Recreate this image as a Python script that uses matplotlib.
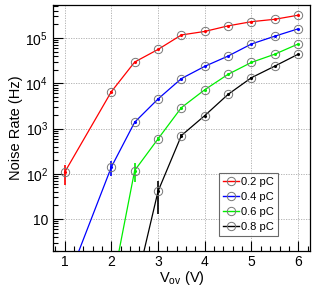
import math

import matplotlib
matplotlib.use('Agg')
import matplotlib.pyplot as plt
from matplotlib.ticker import FixedLocator, MultipleLocator, LogLocator, NullFormatter, FuncFormatter

plt.rcParams['font.family'] = ['Liberation Sans', 'DejaVu Sans']
plt.rcParams['mathtext.fontset'] = 'custom'
plt.rcParams['mathtext.rm'] = 'Liberation Sans'
plt.rcParams['mathtext.it'] = 'Liberation Sans:italic'

# ── Data ────────────────────────────────────────────────────────────────────

vov_02 = [1, 2, 2.5, 3, 3.5, 4, 4.5, 5, 5.5, 6]
rate_02 = [107, 6.5e3, 2.95e4, 5.6e4, 1.17e5, 1.4e5, 1.86e5, 2.3e5, 2.6e5, 3.2e5]
err_02 = [50, 150, 300, 400, 600, 700, 800, 900, 1000, 1100]

vov_04 = [1, 2, 2.5, 3, 3.5, 4, 4.5, 5, 5.5, 6]
rate_04 = [0.3, 140, 1.38e3, 4.5e3, 1.27e4, 2.37e4, 4.0e4, 7.4e4, 1.1e5, 1.6e5]
err_04 = [0.3, 50, 70, 120, 200, 300, 400, 500, 600, 700]

vov_06 = [2, 2.5, 3, 3.5, 4, 4.5, 5, 5.5, 6]
rate_06 = [0.26, 118, 590, 2.9e3, 7.2e3, 1.58e4, 2.9e4, 4.4e4, 7.4e4]
err_06 = [0.2, 53, 50, 100, 150, 250, 300, 400, 500]

vov_08 = [2.5, 3, 3.5, 4, 4.5, 5, 5.5, 6]
rate_08 = [0.26, 41, 700, 1.93e3, 5.7e3, 1.33e4, 2.4e4, 4.4e4]
err_08 = [0.2, 28, 60, 80, 140, 220, 300, 400]

labels = ['0.2 pC', '0.4 pC', '0.6 pC', '0.8 pC']
colours = ['#ff0000', '#0000ff', '#00ee00', '#000000']

series = [(vov_02, rate_02, err_02), (vov_04, rate_04, err_04),
          (vov_06, rate_06, err_06), (vov_08, rate_08, err_08)]

# ── Figure ──────────────────────────────────────────────────────────────────

fig = plt.figure(figsize=(3.13, 2.89), dpi=100)
ax = fig.add_axes([0.169, 0.131, 0.821, 0.852])

handles = []
for (x, y, e), lab, col in zip(series, labels, colours):
    ax.errorbar(x, y, yerr=e, color=col, linewidth=0.9, elinewidth=1.2,
                capsize=0, zorder=3)
    ax.plot(x, y, linestyle='none', marker='.', markersize=2.5, color=col,
            zorder=4)
    ax.plot(x, y, linestyle='none', marker='o', markersize=6,
            markerfacecolor='none', markeredgecolor='#777777',
            markeredgewidth=0.7, zorder=5)
    handles.append(plt.Line2D([], [], color=col, linewidth=1.0, marker='o',
                              markersize=6, markerfacecolor='none',
                              markeredgecolor='#777777', markeredgewidth=0.7,
                              label=lab))

ax.set_yscale('log')
ax.set_xlim(0.75, 6.25)
ax.set_ylim(1.95, 5.4e5)

ax.xaxis.set_major_locator(MultipleLocator(1))
ax.xaxis.set_minor_locator(MultipleLocator(0.2))
ax.yaxis.set_major_locator(FixedLocator([10, 1e2, 1e3, 1e4, 1e5]))
ax.yaxis.set_minor_locator(LogLocator(base=10, subs=range(2, 10), numticks=20))
ax.yaxis.set_minor_formatter(NullFormatter())


def yfmt(v, _):
    if v == 10:
        return '10'
    return r'$10^{%d}$' % round(math.log10(v))


ax.yaxis.set_major_formatter(FuncFormatter(yfmt))

ax.tick_params(which='both', direction='in', labelsize=10, top=False, right=False)
ax.tick_params(which='major', length=7, width=0.8)
ax.tick_params(which='minor', length=3.5, width=0.8)
ax.tick_params(axis='x', pad=3)

ax.grid(which='major', color='#aaaaaa', linestyle=(0, (1.5, 1.5)), linewidth=0.6)
for s in ax.spines.values():
    s.set_linewidth(0.9)

ax.set_xlabel(r'V$_{\mathrm{ov}}$ (V)', fontsize=10.5, labelpad=0)
ax.set_ylabel('Noise Rate (Hz)', fontsize=10.5, labelpad=2)

leg = ax.legend(handles=handles, loc='upper left',
                bbox_to_anchor=(0.645, 0.318), fontsize=8, frameon=True,
                fancybox=False, edgecolor='#444444', handlelength=1.5,
                handletextpad=0.2, borderpad=0.35, labelspacing=0.45,
                borderaxespad=0)
leg.get_frame().set_linewidth(0.8)

fig.savefig('out.png', dpi=100)
